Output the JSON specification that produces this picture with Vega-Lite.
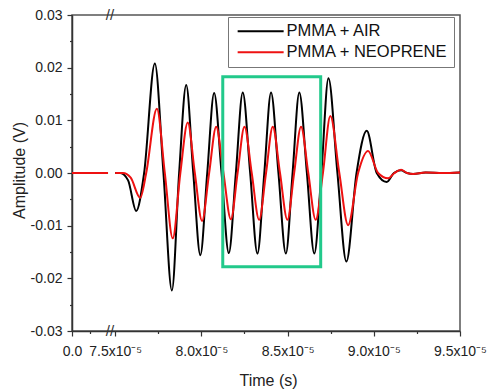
{
  "$schema": "https://vega.github.io/schema/vega-lite/v6.json",
  "width": 388,
  "height": 316,
  "autosize": {"type": "none"},
  "padding": {"left": 72, "top": 15, "right": 28, "bottom": 60},
  "config": {
    "font": "Liberation Sans",
    "view": {"stroke": "#555555", "strokeWidth": 1.5},
    "axis": {"grid": false, "domainColor": "#333333", "domainWidth": 1.5, "tickColor": "#333333", "tickWidth": 1.2, "labelColor": "#222222", "titleColor": "#222222", "labelFontSize": 14, "titleFontSize": 16, "titleFontWeight": "normal", "labelFlush": false, "labelOverlap": false}
  },
  "datasets": {
    "signal": [
      {"t": 0, "amp": 0, "series": "PMMA + AIR", "seg": "a"},
      {"t": 7.08e-5, "amp": 0, "series": "PMMA + AIR", "seg": "a"},
      {"t": 7.50e-5, "amp": 0, "series": "PMMA + AIR", "seg": "b"},
      {"t": 7.53e-5, "amp": 0, "series": "PMMA + AIR", "seg": "b"},
      {"t": 7.575e-5, "amp": -0.0014, "series": "PMMA + AIR", "seg": "b"},
      {"t": 7.622e-5, "amp": -0.0072, "series": "PMMA + AIR", "seg": "b"},
      {"t": 7.668e-5, "amp": 0, "series": "PMMA + AIR", "seg": "b"},
      {"t": 7.730e-5, "amp": 0.0208, "series": "PMMA + AIR", "seg": "b"},
      {"t": 7.780e-5, "amp": 0, "series": "PMMA + AIR", "seg": "b"},
      {"t": 7.829e-5, "amp": -0.0223, "series": "PMMA + AIR", "seg": "b"},
      {"t": 7.871e-5, "amp": 0, "series": "PMMA + AIR", "seg": "b"},
      {"t": 7.912e-5, "amp": 0.0167, "series": "PMMA + AIR", "seg": "b"},
      {"t": 7.953e-5, "amp": 0, "series": "PMMA + AIR", "seg": "b"},
      {"t": 7.994e-5, "amp": -0.0156, "series": "PMMA + AIR", "seg": "b"},
      {"t": 8.034e-5, "amp": 0, "series": "PMMA + AIR", "seg": "b"},
      {"t": 8.074e-5, "amp": 0.0152, "series": "PMMA + AIR", "seg": "b"},
      {"t": 8.117e-5, "amp": 0, "series": "PMMA + AIR", "seg": "b"},
      {"t": 8.159e-5, "amp": -0.0152, "series": "PMMA + AIR", "seg": "b"},
      {"t": 8.200e-5, "amp": 0, "series": "PMMA + AIR", "seg": "b"},
      {"t": 8.240e-5, "amp": 0.0153, "series": "PMMA + AIR", "seg": "b"},
      {"t": 8.283e-5, "amp": 0, "series": "PMMA + AIR", "seg": "b"},
      {"t": 8.325e-5, "amp": -0.0153, "series": "PMMA + AIR", "seg": "b"},
      {"t": 8.365e-5, "amp": 0, "series": "PMMA + AIR", "seg": "b"},
      {"t": 8.404e-5, "amp": 0.0153, "series": "PMMA + AIR", "seg": "b"},
      {"t": 8.447e-5, "amp": 0, "series": "PMMA + AIR", "seg": "b"},
      {"t": 8.490e-5, "amp": -0.0153, "series": "PMMA + AIR", "seg": "b"},
      {"t": 8.529e-5, "amp": 0, "series": "PMMA + AIR", "seg": "b"},
      {"t": 8.568e-5, "amp": 0.0153, "series": "PMMA + AIR", "seg": "b"},
      {"t": 8.612e-5, "amp": 0, "series": "PMMA + AIR", "seg": "b"},
      {"t": 8.655e-5, "amp": -0.0153, "series": "PMMA + AIR", "seg": "b"},
      {"t": 8.696e-5, "amp": 0, "series": "PMMA + AIR", "seg": "b"},
      {"t": 8.737e-5, "amp": 0.0180, "series": "PMMA + AIR", "seg": "b"},
      {"t": 8.789e-5, "amp": 0, "series": "PMMA + AIR", "seg": "b"},
      {"t": 8.841e-5, "amp": -0.0168, "series": "PMMA + AIR", "seg": "b"},
      {"t": 8.900e-5, "amp": 0, "series": "PMMA + AIR", "seg": "b"},
      {"t": 8.959e-5, "amp": 0.0080, "series": "PMMA + AIR", "seg": "b"},
      {"t": 9.017e-5, "amp": 0, "series": "PMMA + AIR", "seg": "b"},
      {"t": 9.075e-5, "amp": -0.0017, "series": "PMMA + AIR", "seg": "b"},
      {"t": 9.117e-5, "amp": 0, "series": "PMMA + AIR", "seg": "b"},
      {"t": 9.158e-5, "amp": 0.0005, "series": "PMMA + AIR", "seg": "b"},
      {"t": 9.193e-5, "amp": 0, "series": "PMMA + AIR", "seg": "b"},
      {"t": 9.228e-5, "amp": -0.0002, "series": "PMMA + AIR", "seg": "b"},
      {"t": 9.30e-5, "amp": 0.0001, "series": "PMMA + AIR", "seg": "b"},
      {"t": 9.40e-5, "amp": 0, "series": "PMMA + AIR", "seg": "b"},
      {"t": 9.50e-5, "amp": 0.0001, "series": "PMMA + AIR", "seg": "b"},
      {"t": 0, "amp": 0, "series": "PMMA + NEOPRENE", "seg": "a"},
      {"t": 7.08e-5, "amp": 0, "series": "PMMA + NEOPRENE", "seg": "a"},
      {"t": 7.50e-5, "amp": 0, "series": "PMMA + NEOPRENE", "seg": "b"},
      {"t": 7.545e-5, "amp": 0, "series": "PMMA + NEOPRENE", "seg": "b"},
      {"t": 7.59e-5, "amp": -0.0009, "series": "PMMA + NEOPRENE", "seg": "b"},
      {"t": 7.645e-5, "amp": -0.0047, "series": "PMMA + NEOPRENE", "seg": "b"},
      {"t": 7.680e-5, "amp": 0, "series": "PMMA + NEOPRENE", "seg": "b"},
      {"t": 7.742e-5, "amp": 0.0122, "series": "PMMA + NEOPRENE", "seg": "b"},
      {"t": 7.788e-5, "amp": 0, "series": "PMMA + NEOPRENE", "seg": "b"},
      {"t": 7.834e-5, "amp": -0.0124, "series": "PMMA + NEOPRENE", "seg": "b"},
      {"t": 7.878e-5, "amp": 0, "series": "PMMA + NEOPRENE", "seg": "b"},
      {"t": 7.921e-5, "amp": 0.0096, "series": "PMMA + NEOPRENE", "seg": "b"},
      {"t": 7.962e-5, "amp": 0, "series": "PMMA + NEOPRENE", "seg": "b"},
      {"t": 8.004e-5, "amp": -0.0091, "series": "PMMA + NEOPRENE", "seg": "b"},
      {"t": 8.045e-5, "amp": 0, "series": "PMMA + NEOPRENE", "seg": "b"},
      {"t": 8.086e-5, "amp": 0.0088, "series": "PMMA + NEOPRENE", "seg": "b"},
      {"t": 8.128e-5, "amp": 0, "series": "PMMA + NEOPRENE", "seg": "b"},
      {"t": 8.171e-5, "amp": -0.0088, "series": "PMMA + NEOPRENE", "seg": "b"},
      {"t": 8.210e-5, "amp": 0, "series": "PMMA + NEOPRENE", "seg": "b"},
      {"t": 8.250e-5, "amp": 0.0088, "series": "PMMA + NEOPRENE", "seg": "b"},
      {"t": 8.292e-5, "amp": 0, "series": "PMMA + NEOPRENE", "seg": "b"},
      {"t": 8.335e-5, "amp": -0.0089, "series": "PMMA + NEOPRENE", "seg": "b"},
      {"t": 8.375e-5, "amp": 0, "series": "PMMA + NEOPRENE", "seg": "b"},
      {"t": 8.414e-5, "amp": 0.0088, "series": "PMMA + NEOPRENE", "seg": "b"},
      {"t": 8.456e-5, "amp": 0, "series": "PMMA + NEOPRENE", "seg": "b"},
      {"t": 8.499e-5, "amp": -0.0089, "series": "PMMA + NEOPRENE", "seg": "b"},
      {"t": 8.538e-5, "amp": 0, "series": "PMMA + NEOPRENE", "seg": "b"},
      {"t": 8.578e-5, "amp": 0.0088, "series": "PMMA + NEOPRENE", "seg": "b"},
      {"t": 8.620e-5, "amp": 0, "series": "PMMA + NEOPRENE", "seg": "b"},
      {"t": 8.663e-5, "amp": -0.0089, "series": "PMMA + NEOPRENE", "seg": "b"},
      {"t": 8.705e-5, "amp": 0, "series": "PMMA + NEOPRENE", "seg": "b"},
      {"t": 8.748e-5, "amp": 0.0108, "series": "PMMA + NEOPRENE", "seg": "b"},
      {"t": 8.800e-5, "amp": 0, "series": "PMMA + NEOPRENE", "seg": "b"},
      {"t": 8.851e-5, "amp": -0.0099, "series": "PMMA + NEOPRENE", "seg": "b"},
      {"t": 8.909e-5, "amp": 0, "series": "PMMA + NEOPRENE", "seg": "b"},
      {"t": 8.967e-5, "amp": 0.0042, "series": "PMMA + NEOPRENE", "seg": "b"},
      {"t": 9.025e-5, "amp": 0, "series": "PMMA + NEOPRENE", "seg": "b"},
      {"t": 9.083e-5, "amp": -0.0010, "series": "PMMA + NEOPRENE", "seg": "b"},
      {"t": 9.120e-5, "amp": 0, "series": "PMMA + NEOPRENE", "seg": "b"},
      {"t": 9.158e-5, "amp": 0.0006, "series": "PMMA + NEOPRENE", "seg": "b"},
      {"t": 9.193e-5, "amp": 0, "series": "PMMA + NEOPRENE", "seg": "b"},
      {"t": 9.228e-5, "amp": -0.0002, "series": "PMMA + NEOPRENE", "seg": "b"},
      {"t": 9.30e-5, "amp": 0.0001, "series": "PMMA + NEOPRENE", "seg": "b"},
      {"t": 9.40e-5, "amp": 0, "series": "PMMA + NEOPRENE", "seg": "b"},
      {"t": 9.50e-5, "amp": 0.0001, "series": "PMMA + NEOPRENE", "seg": "b"}
    ],
    "box": [{"t": 8.124e-5, "t2": 8.692e-5, "amp": 0.01828, "amp2": -0.01779}],
    "breaks": [{"t": 7.47e-5, "amp": 0.03}, {"t": 7.47e-5, "amp": -0.03}]
  },
  "encoding": {
    "x": {
      "field": "t", "type": "quantitative",
      "scale": {"domain": [0, 7.47e-5, 9.5e-5], "range": [0, 38, 388], "nice": false, "zero": false},
      "axis": {
        "title": "Time (s)",
        "values": [0, 3.5e-5, 7.5e-5, 7.75e-5, 8e-5, 8.25e-5, 8.5e-5, 8.75e-5, 9e-5, 9.25e-5, 9.5e-5],
        "labelExpr": "datum.value == 0 ? '0.0' : ((datum.value > 7e-5 && round(datum.value*1e6) % 5 == 0) ? format(datum.value*1e5, '.1f') + 'x10\u207b\u2075' : '')",
        "tickSize": {"condition": {"test": "datum.value == 0 || (datum.value > 7e-5 && round(datum.value*1e6) % 5 == 0)", "value": 5}, "value": 2.5},
        "labelPadding": 8,
        "titleX": 196, "titleY": 54, "titleBaseline": "alphabetic", "titleAlign": "center"
      }
    },
    "y": {
      "field": "amp", "type": "quantitative",
      "scale": {"domain": [-0.03, 0.03], "nice": false, "zero": false},
      "axis": {
        "title": "Amplitude (V)",
        "values": [-0.03, -0.025, -0.02, -0.015, -0.01, -0.005, 0, 0.005, 0.01, 0.015, 0.02, 0.025, 0.03],
        "labelExpr": "abs(round(datum.value*1000)) % 10 == 5 ? '' : replace(format(datum.value, '.2f'), '\u2212', '-')",
        "tickSize": {"condition": {"test": "abs(round(datum.value*1000)) % 10 == 5", "value": 2.5}, "value": 5},
        "labelPadding": 5,
        "titleX": -53, "titleY": 155, "titleBaseline": "middle", "titleAlign": "center", "titleAngle": -90
      }
    }
  },
  "layer": [
    {
      "data": {"name": "signal"},
      "mark": {"type": "line", "strokeWidth": 2, "interpolate": "monotone"},
      "encoding": {
        "color": {
          "field": "series", "type": "nominal",
          "scale": {"domain": ["PMMA + AIR", "PMMA + NEOPRENE"], "range": ["#000000", "#ee1111"]},
          "legend": {
            "title": null, "orient": "none", "legendX": 156, "legendY": 2,
            "strokeColor": "#777777", "fillColor": "#ffffff", "padding": 6,
            "labelFontSize": 16.5, "labelColor": "#111111", "labelLimit": 400,
            "symbolType": "M-1,0L9,0", "symbolSize": 84.64, "symbolStrokeWidth": 2,
            "labelOffset": 36, "rowPadding": 4
          }
        },
        "detail": {"field": "seg", "type": "nominal"}
      }
    },
    {
      "data": {"name": "box"},
      "mark": {"type": "rect", "fill": null, "fillOpacity": 0, "stroke": "#22c98b", "strokeWidth": 3},
      "encoding": {
        "x2": {"field": "t2"},
        "y2": {"field": "amp2"}
      }
    },
    {
      "data": {"name": "breaks"},
      "mark": {"type": "text", "text": "//", "fontSize": 15, "color": "#333333", "align": "center", "baseline": "middle"}
    }
  ]
}
